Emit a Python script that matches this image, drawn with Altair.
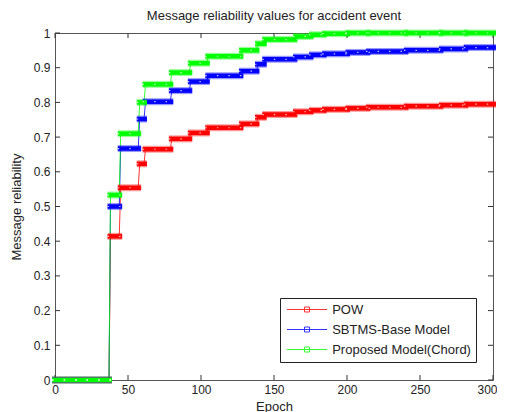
import altair as alt
import pandas as pd

# ---------------- data ----------------
series_names = ["POW", "SBTMS-Base Model", "Proposed Model(Chord)"]
series_colors = ["#ff0000", "#0000ff", "#00ff00"]

# epochs at which each constant level starts / ends (step-shaped curves)
level_start = [0, 38, 45, 58, 62, 80, 93, 105, 128, 139, 144, 165, 176, 185, 201, 215, 241, 265, 282]
level_end = [37, 44, 57, 61, 79, 92, 104, 127, 138, 143, 164, 175, 184, 200, 214, 240, 264, 281, 300]

pow_values = [0, 0.414, 0.554, 0.623, 0.665, 0.695, 0.712, 0.727, 0.738, 0.757,
              0.765, 0.773, 0.777, 0.780, 0.783, 0.786, 0.789, 0.792, 0.795]
sbtms_values = [0, 0.500, 0.667, 0.752, 0.802, 0.834, 0.860, 0.877, 0.890, 0.910,
                0.924, 0.931, 0.937, 0.940, 0.944, 0.947, 0.950, 0.954, 0.958]
chord_values = [0, 0.533, 0.710, 0.800, 0.852, 0.886, 0.913, 0.933, 0.950, 0.969,
                0.981, 0.990, 0.995, 0.998, 1.0, 1.0, 1.0, 1.0, 1.0]

x_ticks = [0, 50, 100, 150, 200, 250, 300]
y_ticks = [0, 0.1, 0.2, 0.3, 0.4, 0.5, 0.6, 0.7, 0.8, 0.9, 1.0]

# ---------------- layout / style ----------------
W, H = 438, 347
FONT = "Liberation Sans"
TXT = "#222222"
MARK_HALF = 2  # half of marker width, in epochs

rows = []
pts = []
for name, vals in zip(series_names, [pow_values, sbtms_values, chord_values]):
    for i, (s, e, v) in enumerate(zip(level_start, level_end, vals)):
        rows.append({"series": name, "start": s, "end": e, "value": v})
        pts.append({"series": name, "epoch": s, "value": v, "k": 2 * i})
        pts.append({"series": name, "epoch": e, "value": v, "k": 2 * i + 1})
levels = pd.DataFrame(rows)
points = pd.DataFrame(pts)

xs = alt.Scale(domain=[0, 300], nice=False, zero=False)
ys = alt.Scale(domain=[0, 1], nice=False, zero=False)
cs = alt.Scale(domain=series_names, range=series_colors)

last_x = x_ticks[-1]
x_axis = alt.Axis(values=x_ticks, title="Epoch", ticks=False, tickSize=0, domain=False, grid=False,
                  labelPadding=4, titlePadding=5, labelFlush=False, labelOverlap=False,
                  labelAlign={"condition": {"test": f"datum.value == {last_x}", "value": "right"},
                              "value": "center"},
                  labelOffset={"condition": {"test": f"datum.value == {last_x}", "value": 4},
                               "value": 0})
y_axis = alt.Axis(values=y_ticks, title="Message reliability", format="~g", ticks=False, tickSize=0,
                  domain=False, grid=False, labelPadding=5, titlePadding=10, labelFlush=False,
                  labelOverlap=False)

legend = alt.Legend(orient="none", legendX=225, legendY=265, title=None,
                    strokeColor="#222222", fillColor="white", padding=5, rowPadding=6,
                    symbolType="M-4,0H4M-0.5,-0.5H0.5V0.5H-0.5Z", symbolSize=100,
                    symbolStrokeWidth=1, symbolOffset=15.5, labelOffset=18.7,
                    labelFontSize=13, labelFont=FONT, labelColor=TXT, symbolFillColor="white")

def X(field):
    return alt.X(field, scale=xs, axis=x_axis)

def Y(field):
    return alt.Y(field, scale=ys, axis=y_axis)

# inward ticks on all four sides
xt = pd.DataFrame({"t": x_ticks})
yt = pd.DataFrame({"t": y_ticks})
tick_col = "#333333"
bottom_ticks = alt.Chart(xt).mark_rule(color=tick_col).encode(
    x=X("t:Q"), y=alt.value(H), y2=alt.value(H - 5))
top_ticks = alt.Chart(xt).mark_rule(color=tick_col).encode(
    x=X("t:Q"), y=alt.value(0), y2=alt.value(5))
left_ticks = alt.Chart(yt).mark_rule(color=tick_col).encode(
    y=Y("t:Q"), x=alt.value(0), x2=alt.value(5))
right_ticks = alt.Chart(yt).mark_rule(color=tick_col).encode(
    y=Y("t:Q"), x=alt.value(W), x2=alt.value(W - 5))

base_lv = alt.Chart(levels).transform_calculate(
    x_lo=f"datum.start - {MARK_HALF}", x_hi=f"datum.end + {MARK_HALF}")

def bars(width, opacity, color=None, dash=None):
    kw = dict(strokeWidth=width, opacity=opacity, strokeCap="butt")
    if dash:
        kw["strokeDash"] = dash
    enc = dict(x=X("x_lo:Q"), x2="x_hi:Q", y=Y("value:Q"))
    if color:
        kw["color"] = color
        enc["detail"] = "series:N"
    else:
        enc["color"] = alt.Color("series:N", scale=cs, legend=None)
    return base_lv.mark_rule(**kw).encode(**enc)

halo = bars(7, 0.4)
core = bars(4.5, 1.0)
dots = bars(1.2, 0.75, color="white", dash=[1.5, 10])

line = alt.Chart(points).mark_line(strokeWidth=1, opacity=0.8).encode(
    x=X("epoch:Q"),
    y=Y("value:Q"),
    color=alt.Color("series:N", scale=cs, legend=legend),
    order="k:Q",
)

chart = alt.layer(
    bottom_ticks, top_ticks, left_ticks, right_ticks, line, halo, core, dots
).properties(
    width=W, height=H,
    autosize="none",
    padding={"left": 47, "top": 25, "right": 4, "bottom": 32},
    title=alt.TitleParams("Message reliability values for accident event", fontSize=13,
                          fontWeight="normal", font=FONT, color=TXT, frame="group",
                          anchor="middle", offset=4),
).configure_view(
    stroke="#555555", strokeWidth=1
).configure_axis(
    labelFont=FONT, titleFont=FONT, labelFontSize=12, titleFontSize=13,
    labelColor=TXT, titleColor=TXT, titleFontWeight="normal"
)

chart.save("out.html", embed_options={"renderer": "svg", "actions": False})
